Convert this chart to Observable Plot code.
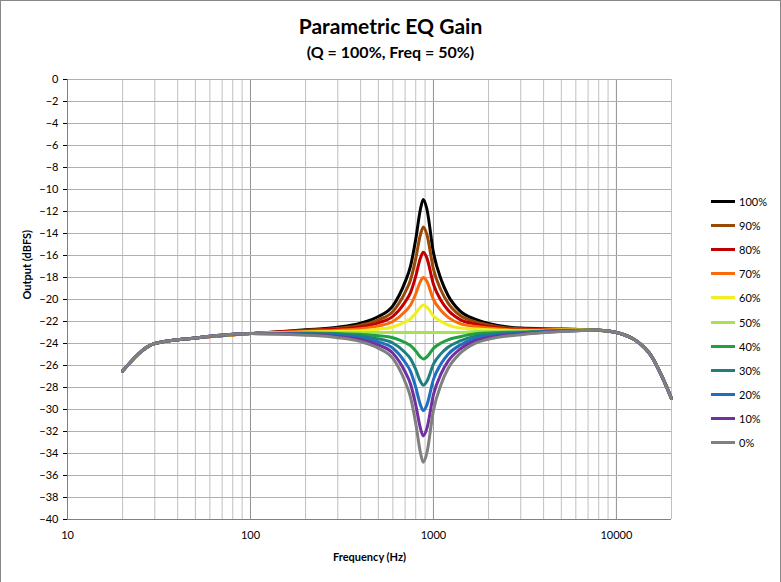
<!DOCTYPE html>
<html><head><meta charset="utf-8">
<script src="https://cdn.jsdelivr.net/npm/d3@7"></script>
<script src="https://cdn.jsdelivr.net/npm/@observablehq/plot@0.6"></script>
<style>
body{margin:0;background:#fff;font-family:Lato,"Open Sans",sans-serif;}
#wrap{position:relative;width:779px;height:580px;border:1px solid #888;background:#fff;}
#t1{position:absolute;top:12px;width:100%;text-align:center;font-weight:bold;font-size:21px;}
#t2{position:absolute;top:41px;width:100%;text-align:center;font-weight:bold;font-size:16px;}
#chart{position:absolute;top:65px;left:0;}
#legend{position:absolute;left:710px;top:188px;font-size:11px;}
.li{height:24.2px;display:flex;align-items:center;}
.sw{width:24px;height:3px;margin-right:4px;}
</style></head><body>
<div id="wrap"><div id="t1">Parametric EQ Gain</div><div id="t2">(Q = 100%, Freq = 50%)</div><div id="chart"></div><div id="legend"></div></div>
<script>
const freqs=[20,30,50,100,200,300,400,500,600,700,750,800,850,880,920,1000,1100,1200,1400,1700,2000,3000,5000,8000,10000,15000,20000];
const lowEnd=[-26.5,-24.0,-23.5,-23.1];
const highEnd=[-22.8,-23.0,-24.8,-29.0];
const seriesNames=["100%","90%","80%","70%","60%","50%","40%","30%","20%","10%","0%"];
const colors=["#000000","#984807","#c00000","#f96b0a","#f0f020","#a6e34d","#20a040","#1f7f7f","#1f6fbf","#7030a0","#808080"];
const mid100=[-22.76,-22.52,-22.15,-21.55,-20.58,-18.40,-16.95,-14.53,-11.75,-10.9,-11.75,-15.74,-18.16,-19.61,-21.06,-21.81,-22.17,-22.6,-22.68];
const mid90=[-22.81,-22.62,-22.33,-21.85,-21.08,-19.35,-18.2,-16.28,-14.07,-13.4,-14.07,-17.24,-19.16,-20.31,-21.46,-22.04,-22.32,-22.66,-22.7];
const mid80=[-22.85,-22.71,-22.49,-22.12,-21.54,-20.23,-19.35,-17.89,-16.21,-15.7,-16.21,-18.62,-20.08,-20.96,-21.83,-22.24,-22.46,-22.72,-22.73];
const mid70=[-22.9,-22.8,-22.65,-22.4,-22,-21.1,-20.5,-19.5,-18.35,-18,-18.35,-20,-21,-21.6,-22.2,-22.45,-22.6,-22.78,-22.75];
const mid60=[-22.95,-22.9,-22.83,-22.7,-22.5,-22.05,-21.75,-21.25,-20.68,-20.5,-20.68,-21.5,-22,-22.3,-22.6,-22.68,-22.75,-22.84,-22.78];
const mid50=[-23,-23,-23,-23,-23,-23,-23,-23,-23,-23,-23,-23,-23,-23,-23,-22.9,-22.9,-22.9,-22.8];
const mid40=[-23.05,-23.1,-23.17,-23.29,-23.48,-23.91,-24.2,-24.68,-25.23,-25.4,-25.23,-24.44,-23.96,-23.67,-23.38,-23.12,-23.04,-22.96,-22.82];
const mid30=[-23.1,-23.19,-23.34,-23.58,-23.96,-24.82,-25.4,-26.36,-27.46,-27.8,-27.46,-25.88,-24.92,-24.34,-23.77,-23.33,-23.19,-23.02,-22.85];
const mid20=[-23.14,-23.28,-23.5,-23.85,-24.42,-25.7,-26.55,-27.97,-29.6,-30.1,-29.6,-27.26,-25.84,-24.99,-24.14,-23.54,-23.33,-23.08,-22.87];
const mid10=[-23.19,-23.38,-23.66,-24.13,-24.88,-26.57,-27.7,-29.58,-31.74,-32.4,-31.74,-28.64,-26.76,-25.63,-24.5,-23.75,-23.46,-23.14,-22.89];
const mid0=[-23.24,-23.47,-23.83,-24.42,-25.36,-27.48,-28.9,-31.26,-33.97,-34.8,-33.97,-30.08,-27.72,-26.3,-24.89,-23.96,-23.61,-23.2,-22.92];
const mids=[mid100,mid90,mid80,mid70,mid60,mid50,mid40,mid30,mid20,mid10,mid0];
const xTicks=[10,100,1000,10000];
const yTicks=d3.range(-40,1,2);

const data=[];
mids.forEach((m,i)=>{const v=[...lowEnd,...m,...highEnd];freqs.forEach((f,j)=>data.push({s:seriesNames[i],f,v:v[j]}));});
const minor=[];for(const d of [10,100,1000,10000])for(let k=2;k<=9;k++)if(d*k<=20000)minor.push(d*k);

const plot=Plot.plot({
  width:779,height:517,marginLeft:66,marginRight:109,marginTop:13,marginBottom:64,
  style:{fontFamily:"Lato, sans-serif",fontSize:"11px",background:"#fff"},
  x:{type:"log",domain:[10,20000],ticks:xTicks,tickFormat:d=>String(d),tickSize:0,tickPadding:10,label:null},
  y:{domain:[-40,0],ticks:yTicks,tickSize:4,tickPadding:4,label:null},
  color:{domain:seriesNames,range:colors},
  marks:[
    Plot.ruleX(minor,{stroke:"#c0c0c0"}),
    Plot.ruleX(xTicks,{stroke:"#909090"}),
    Plot.ruleY(yTicks,{stroke:"#b0b0b0"}),
    Plot.ruleX([10],{stroke:"#808080"}),
    Plot.ruleY([-40],{stroke:"#808080"}),
    Plot.line(data,{x:"f",y:"v",z:"s",stroke:"s",strokeWidth:3,curve:"monotone-x"}),
    Plot.axisX({ticks:xTicks,tickFormat:d=>String(d),tickSize:0,tickPadding:12,fontSize:11,label:null}),
    Plot.axisY({ticks:yTicks,tickSize:4,label:null}),
    Plot.text(["Frequency (Hz)"],{frameAnchor:"bottom",dy:41,fontWeight:"bold",fontSize:11}),
    Plot.text(["Output (dBFS)"],{frameAnchor:"left",dx:-40,rotate:-90,fontWeight:"bold",fontSize:11})
  ]
});
document.getElementById("chart").appendChild(plot);
const lg=document.getElementById("legend");
seriesNames.forEach((n,i)=>{lg.insertAdjacentHTML("beforeend",`<div class="li"><div class="sw" style="background:${colors[i]}"></div>${n}</div>`);});
</script></body></html>
